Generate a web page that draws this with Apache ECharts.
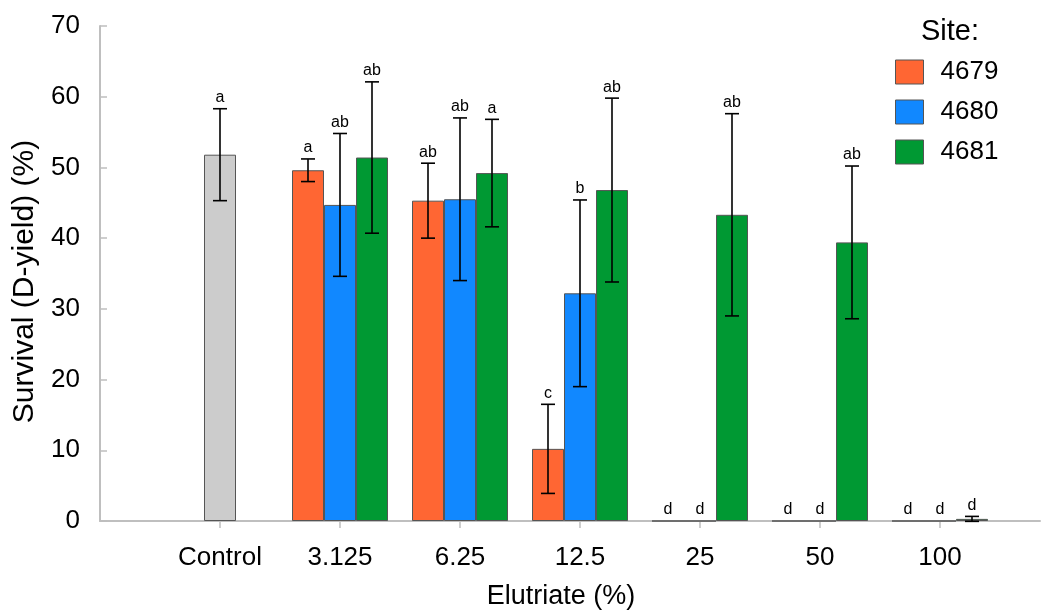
<!DOCTYPE html>
<html>
<head>
<meta charset="utf-8">
<script src="https://cdn.jsdelivr.net/npm/echarts@6/dist/echarts.min.js"></script>
<style>
html,body{margin:0;padding:0;background:#fff;}
#c{width:1048px;height:610px;}
</style>
</head>
<body>
<div id="c"></div>
<script>
const categories = ['Control', '3.125', '6.25', '12.5', '25', '50', '100'];
const yTicks = [0, 10, 20, 30, 40, 50, 60, 70];
const siteNames = ['4679', '4680', '4681'];

const controlValue = 51.8;
const controlErr = 6.5;
const controlLetter = 'a';

const s4679 = [null, 49.6, 45.3, 10.2, 0, 0, 0];
const s4679Err = [null, 1.6, 5.3, 6.3, null, null, null];
const s4679Letters = ['', 'a', 'ab', 'c', 'd', 'd', 'd'];

const s4680 = [null, 44.7, 45.5, 32.2, 0, 0, 0];
const s4680Err = [null, 10.1, 11.5, 13.2, null, null, null];
const s4680Letters = ['', 'ab', 'ab', 'b', 'd', 'd', 'd'];

const s4681 = [null, 51.4, 49.2, 46.8, 43.3, 39.4, 0.3];
const s4681Err = [null, 10.7, 7.6, 13.0, 14.3, 10.8, 0.35];
const s4681Letters = ['', 'ab', 'a', 'ab', 'ab', 'ab', 'd'];

const FONT = '"Liberation Sans", Arial, sans-serif';
const colors = ['#FF6633', '#1188FF', '#009933'];
const controlColor = '#CCCCCC';
const BAR_W = 32;

// error-bar / letter rows
const rows = [];
rows.push({cat: 0, v: controlValue, e: controlErr, slot: 0, letter: controlLetter});
const sets = [[s4679, s4679Err, s4679Letters, -1], [s4680, s4680Err, s4680Letters, 0], [s4681, s4681Err, s4681Letters, 1]];
sets.forEach(([vals, errs, letters, slot]) => {
  vals.forEach((v, i) => {
    if (v === null) return;
    rows.push({cat: i, v: v, e: errs[i], slot: slot, letter: letters[i]});
  });
});

const data4680 = s4680.map((v, i) => i === 0 ? {value: controlValue, itemStyle: {color: controlColor}} : v);

const chart = echarts.init(document.getElementById('c'), null, {renderer: 'canvas'});
const axisGray = '#BFBFBF';

chart.setOption({
  animation: false,
  textStyle: {fontFamily: FONT},
  grid: [
    {left: 100, right: 8, top: 26, bottom: 89},
    {left: 160, right: 48, top: 26, bottom: 89}
  ],
  xAxis: [
    {type: 'value', gridIndex: 0, min: 0, max: 1,
     axisLine: {show: true, lineStyle: {color: axisGray, width: 2}},
     axisTick: {show: false}, axisLabel: {show: false}, splitLine: {show: false}},
    {type: 'category', gridIndex: 1, data: categories,
     axisLine: {show: false},
     axisTick: {show: true, alignWithLabel: true, length: 7, lineStyle: {color: axisGray, width: 1.5}},
     axisLabel: {fontSize: 26, color: '#000', margin: 24, fontFamily: FONT},
     splitLine: {show: false}}
  ],
  yAxis: [
    {type: 'value', gridIndex: 0, min: 0, max: 70, interval: 10,
     axisLine: {show: true, lineStyle: {color: axisGray, width: 2}},
     axisTick: {show: true, inside: true, length: 7, lineStyle: {color: axisGray, width: 1.5}},
     axisLabel: {fontSize: 26, color: '#000', margin: 20, fontFamily: FONT,
                 formatter: v => yTicks.includes(v) ? String(v) : ''},
     splitLine: {show: false},
     name: 'Survival (D-yield) (%)', nameLocation: 'middle', nameRotate: 90, nameGap: 58,
     nameTextStyle: {fontSize: 30, color: '#000', fontFamily: FONT, padding: [0, 0, 0, -16]}},
    {type: 'value', gridIndex: 1, min: 0, max: 70, interval: 10, show: false}
  ],
  legend: {
    orient: 'vertical', left: 895, top: 59, padding: 0,
    itemWidth: 28, itemHeight: 24, itemGap: 14,
    icon: 'rect',
    itemStyle: {borderColor: '#555', borderWidth: 1},
    textStyle: {fontSize: 26, color: '#000', fontFamily: FONT, lineHeight: 24, padding: [0, 0, 0, 12]},
    data: siteNames
  },
  graphic: [
    {type: 'text', x: 950, y: 32, style: {text: 'Site:', fill: '#000', font: '29px ' + FONT, textAlign: 'center', textVerticalAlign: 'middle'}},
    {type: 'text', x: 561, y: 597, style: {text: 'Elutriate (%)', fill: '#000', font: '27px ' + FONT, textAlign: 'center', textVerticalAlign: 'middle'}}
  ],
  series: [
    {name: siteNames[0], type: 'bar', xAxisIndex: 1, yAxisIndex: 1, data: s4679, barWidth: BAR_W, barGap: '0%',
     itemStyle: {color: colors[0], borderColor: '#555', borderWidth: 1}},
    {name: siteNames[1], type: 'bar', xAxisIndex: 1, yAxisIndex: 1, data: data4680, barWidth: BAR_W, barGap: '0%',
     itemStyle: {color: colors[1], borderColor: '#555', borderWidth: 1}},
    {name: siteNames[2], type: 'bar', xAxisIndex: 1, yAxisIndex: 1, data: s4681, barWidth: BAR_W, barGap: '0%',
     itemStyle: {color: colors[2], borderColor: '#555', borderWidth: 1}},
    {type: 'custom', xAxisIndex: 1, yAxisIndex: 1, z: 10, clip: false,
     data: rows.map(r => [r.cat, r.v, r.e === null ? 0 : r.e, r.slot]),
     encode: {x: 0, y: 1},
     renderItem: function (params, api) {
       const r = rows[params.dataIndex];
       const base = api.coord([r.cat, r.v]);
       const cx = base[0] + r.slot * BAR_W;
       const children = [];
       let letterY = base[1] - 3;
       if (r.e !== null) {
         const top = api.coord([r.cat, r.v + r.e])[1];
         const bot = api.coord([r.cat, Math.max(r.v - r.e, -1)])[1];
         const ls = {stroke: '#000', lineWidth: 1.6};
         children.push({type: 'line', shape: {x1: cx, y1: top, x2: cx, y2: bot}, style: ls});
         children.push({type: 'line', shape: {x1: cx - 7, y1: top, x2: cx + 7, y2: top}, style: ls});
         children.push({type: 'line', shape: {x1: cx - 7, y1: bot, x2: cx + 7, y2: bot}, style: ls});
         letterY = top - 3;
       }
       children.push({type: 'text', style: {text: r.letter, x: cx, y: letterY, textAlign: 'center', textVerticalAlign: 'bottom', font: '16px ' + FONT, fill: '#000'}});
       return {type: 'group', children: children};
     }}
  ]
});
</script>
</body>
</html>
